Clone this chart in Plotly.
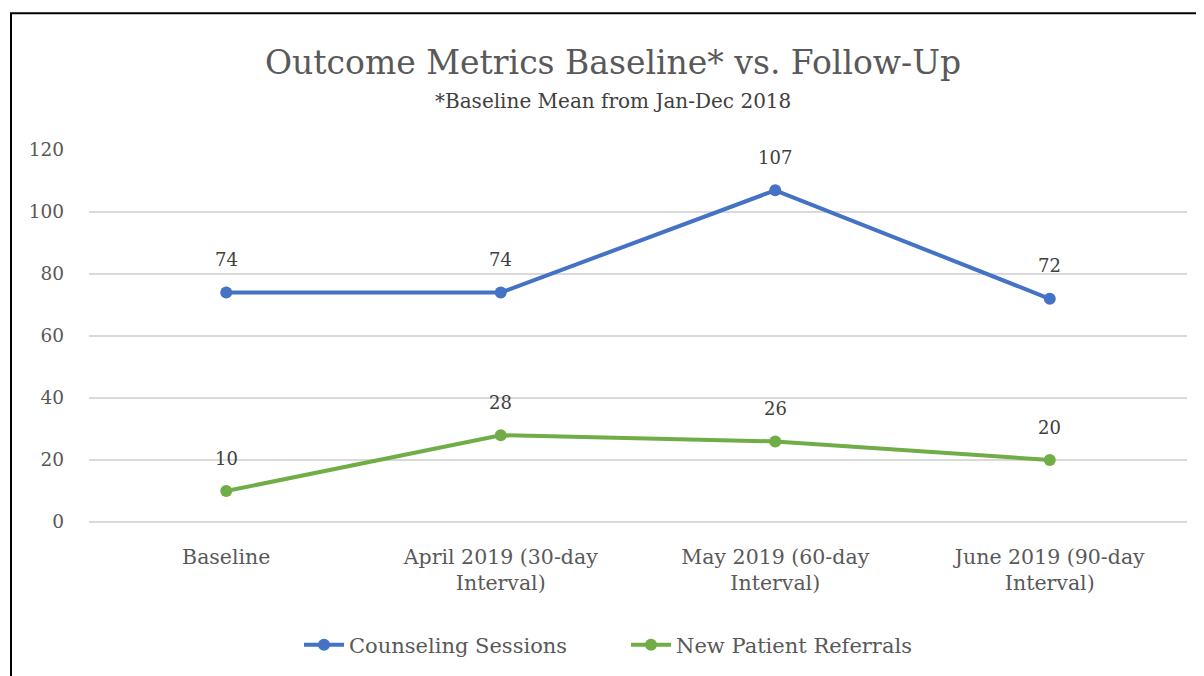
import plotly.graph_objects as go

categories = ["Baseline", "April 2019 (30-day<br>Interval)", "May 2019 (60-day<br>Interval)", "June 2019 (90-day<br>Interval)"]
counseling = [74, 74, 107, 72]
referrals = [10, 28, 26, 20]
y_ticks = [0, 20, 40, 60, 80, 100, 120]

FONT = "DejaVu Serif"
BLUE = "#4472C4"
GREEN = "#70AD47"
GREY = "#595959"

# page body has an 8px margin; compensate so the plot sits where the reference has it
OFF = 8
W, H = 1204 - OFF, 676 - OFF
L, T, R = 89 - OFF, 150 - OFF, 17
B = OFF + H - 523
PW, PH = W - L - R, H - T - B
CENTER_SHIFT = 613 - (89 + PW / 2)  # title/legend are centred on the whole chart box
LEGEND_ENTRY = 272

x_idx = list(range(len(categories)))

fig = go.Figure()
fig.add_trace(go.Scatter(x=x_idx, y=counseling, mode="lines+markers", name="Counseling Sessions",
                         line=dict(color=BLUE, width=4), marker=dict(size=12, color=BLUE)))
fig.add_trace(go.Scatter(x=x_idx, y=referrals, mode="lines+markers", name="New Patient Referrals",
                         line=dict(color=GREEN, width=4), marker=dict(size=12, color=GREEN)))

annotations = []
for series in (counseling, referrals):
    for xi, v in zip(x_idx, series):
        annotations.append(dict(x=xi, y=v, xref="x", yref="y", text=str(v), showarrow=False,
                                yshift=33, font=dict(family=FONT, size=18, color="#404040")))

annotations.append(dict(x=0.5, y=1.0, xref="paper", yref="paper", yanchor="middle",
                        xshift=CENTER_SHIFT, yshift=150 - 62,
                        text="Outcome Metrics Baseline* vs. Follow-Up",
                        showarrow=False, font=dict(family=FONT, size=33, color=GREY)))
annotations.append(dict(x=0.5, y=1.0, xref="paper", yref="paper", yanchor="middle",
                        xshift=CENTER_SHIFT, yshift=150 - 101,
                        text="*Baseline Mean from Jan-Dec 2018",
                        showarrow=False, font=dict(family=FONT, size=20, color="#404040")))

fig.update_layout(
    width=W, height=H,
    margin=dict(l=L, r=R, t=T, b=B),
    paper_bgcolor="white", plot_bgcolor="white",
    font=dict(family=FONT, size=18, color=GREY),
    showlegend=True,
    legend=dict(orientation="h", x=0.5 + (CENTER_SHIFT + 13) / PW, xanchor="center",
                y=-(645 - 523) / PH, yanchor="middle", entrywidth=LEGEND_ENTRY,
                entrywidthmode="pixels",
                font=dict(family=FONT, size=21, color=GREY), itemwidth=40),
    annotations=annotations,
    xaxis=dict(range=[-0.5, 3.5], tickmode="array", tickvals=x_idx, ticktext=categories,
               showgrid=False, zeroline=False, showline=False, ticks="", ticklabelstandoff=20,
               tickfont=dict(family=FONT, size=20.5, color=GREY)),
    yaxis=dict(range=[0, 120], tickmode="array", tickvals=y_ticks, showgrid=True,
               gridcolor="#D9D9D9", gridwidth=1.5, zeroline=True, zerolinecolor="#D9D9D9",
               zerolinewidth=1.5, showline=False, ticks="", ticklabelstandoff=24,
               tickfont=dict(family=FONT, size=18.5, color=GREY)),
    shapes=[dict(type="rect", xref="paper", yref="paper",
                 x0=(11 - 89) / PW, x1=1.2, y0=-0.6, y1=1 + (150 - 13) / PH,
                 line=dict(color="black", width=2), fillcolor="rgba(0,0,0,0)")],
)

fig.write_html("out.html")
